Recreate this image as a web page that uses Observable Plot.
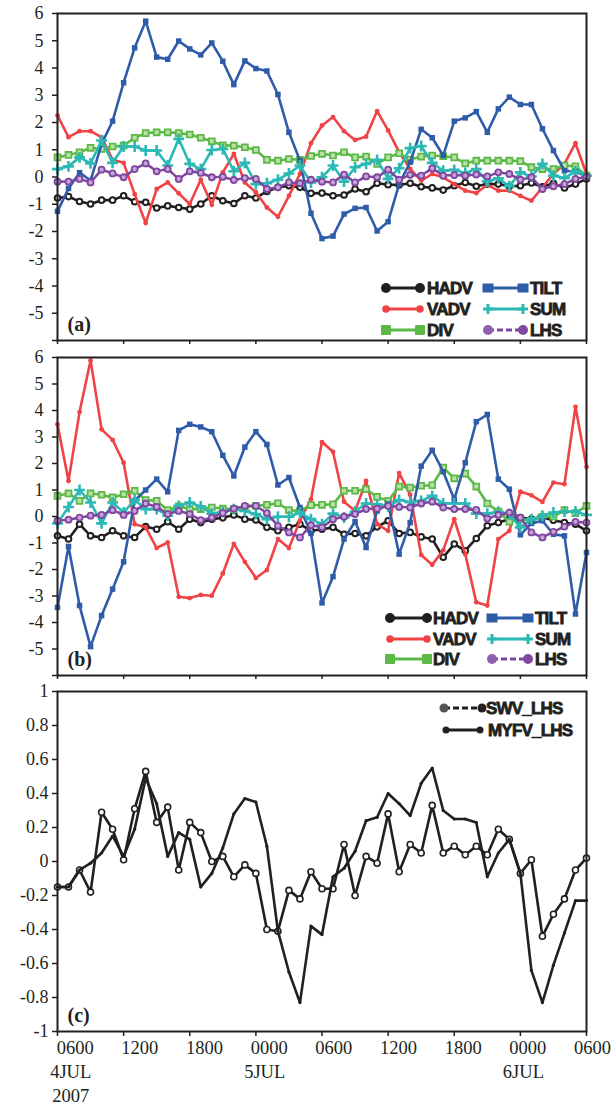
<!DOCTYPE html>
<html><head><meta charset="utf-8">
<script src="https://cdn.jsdelivr.net/npm/d3@7"></script>
<script src="https://cdn.jsdelivr.net/npm/@observablehq/plot@0.6"></script>
<style>
body{margin:0;background:#fff;}
#root{position:relative;width:613px;height:1109px;overflow:hidden;background:#fff;}
.pane{position:absolute;left:0;}
#overlay{position:absolute;left:0;top:0;}
</style></head><body><div id="root"></div>
<script>
// ---------- data ----------
const hours = d3.range(0, 49); // hours since 0600 4 JUL 2007
const tickHours = [0, 6, 12, 18, 24, 30, 36, 42, 48];
const hourLabels = ["0600","1200","1800","0000","0600","1200","1800","0000","0600"];
const dateHours = [0, 18, 42];
const dateLabels = ["4JUL", "5JUL", "6JUL"];
const yearHours = [0];
const yearLabels = ["2007"];
const yTicksAB = [-6,-5,-4,-3,-2,-1,0,1,2,3,4,5,6];
const yLabelsAB = [-5,-4,-3,-2,-1,0,1,2,3,4,5,6];
const yTicksC = [-1,-0.8,-0.6,-0.4,-0.2,0,0.2,0.4,0.6,0.8,1];
const panelLetters = ["(a)", "(b)", "(c)"];
const seriesAB = ["HADV","VADV","DIV","TILT","SUM","LHS"];
const seriesC = ["SWV_LHS","MYFV_LHS"];

// panel (a)
const HADV_a = [-0.77,-0.72,-0.90,-0.99,-0.85,-0.85,-0.69,-0.91,-0.93,-1.14,-1.06,-1.12,-1.18,-0.99,-0.69,-0.87,-0.97,-0.69,-0.77,-0.53,-0.38,-0.32,-0.38,-0.60,-0.59,-0.69,-0.66,-0.44,-0.54,-0.23,-0.28,-0.29,-0.23,-0.36,-0.40,-0.48,-0.32,-0.20,-0.34,-0.26,-0.26,-0.34,-0.32,-0.22,-0.36,-0.23,-0.40,-0.26,-0.07];
const VADV_a = [2.26,1.46,1.68,1.68,1.46,0.63,0.52,-0.63,-1.69,-0.44,-0.20,-0.60,-0.99,-0.10,-1.02,0.17,0.85,-0.20,-0.56,-1.12,-1.46,-0.69,0.11,1.24,1.89,2.20,1.68,1.36,1.48,2.42,1.71,0.91,0.30,-0.13,0.11,-0.01,-0.26,-0.50,-0.59,-0.29,-0.50,-0.50,-0.69,-0.87,-0.38,0.11,0.48,1.24,0.11];
const DIV_a = [0.72,0.81,0.91,1.07,1.03,1.12,1.15,1.44,1.61,1.64,1.64,1.61,1.56,1.44,1.31,1.16,1.15,1.09,0.99,0.63,0.60,0.66,0.63,0.77,0.85,0.79,0.91,0.72,0.75,0.48,0.72,0.87,0.64,0.75,0.79,0.76,0.72,0.50,0.60,0.60,0.60,0.60,0.58,0.36,0.29,0.29,0.42,0.39,0.05];
const TILT_a = [-1.26,-0.42,0.16,-0.13,1.21,2.05,3.46,4.74,5.72,4.40,4.32,4.99,4.70,4.48,4.92,4.25,3.39,4.26,3.98,3.89,3.03,1.64,0.60,-1.33,-2.26,-2.17,-1.36,-1.15,-1.12,-1.98,-1.64,-0.26,0.54,1.75,1.44,0.79,2.05,2.17,2.40,1.64,2.50,2.93,2.66,2.66,1.77,0.97,0.23,0.20,0.02];
const SUM_a = [0.29,0.39,0.72,0.50,1.34,0.52,1.12,1.12,0.97,0.97,0.42,1.40,0.48,0.29,0.99,1.03,0.21,0.52,-0.26,-0.23,-0.10,0.13,0.42,-0.20,-0.01,0.42,-0.17,0.36,0.48,0.63,-0.07,0.32,1.06,1.14,0.52,0.23,0.26,0.15,0.29,-0.16,-0.05,-0.34,0.17,0.02,0.48,0.05,-0.04,0.21,0.05];
const LHS_a = [-0.17,-0.17,-0.07,-0.20,0.27,0.13,-0.01,0.29,0.50,0.21,0.29,-0.07,0.21,0.15,-0.01,0.01,-0.11,-0.04,-0.07,-0.44,-0.38,-0.20,-0.23,-0.10,-0.17,-0.20,0.09,-0.20,0.02,-0.01,0.27,-0.10,0.08,0.05,0.32,0.05,0.07,0.05,0.09,0.02,0.17,0.11,-0.10,-0.01,-0.44,-0.34,-0.26,-0.07,0.01];

// panel (b)
const HADV_b = [-0.73,-0.85,-0.29,-0.73,-0.79,-0.54,-0.73,-0.79,-0.38,-0.48,-0.20,-0.48,-0.10,-0.23,-0.10,-0.05,0.06,-0.10,-0.13,-0.41,-0.54,-0.41,-0.29,-0.54,-0.48,-0.41,-0.67,-0.64,-0.73,-0.39,-0.16,-0.64,-0.60,-0.77,-0.85,-1.54,-1.04,-1.29,-0.83,-0.35,-0.23,-0.10,-0.04,-0.10,-0.04,-0.14,-0.23,-0.29,-0.54];
const VADV_b = [3.48,1.34,3.94,5.89,3.29,2.89,2.03,-0.29,-0.41,-1.19,-0.98,-3.03,-3.08,-2.96,-2.99,-2.15,-1.03,-1.71,-2.32,-2.02,-0.85,-1.19,-0.16,0.65,2.81,2.44,0.56,0.21,1.34,-0.29,-0.54,1.64,0.82,-1.45,-1.82,-1.27,-0.10,-1.42,-3.24,-3.36,-0.85,-0.54,0.94,0.80,0.55,1.28,1.22,4.14,1.87];
const DIV_b = [0.78,0.87,0.59,0.87,0.82,0.72,0.84,0.97,0.62,0.59,0.24,0.38,0.28,0.28,0.34,0.30,0.28,0.36,0.40,0.44,0.50,0.24,0.21,0.43,0.44,0.46,0.97,0.97,1.03,0.74,0.59,1.13,1.09,1.16,1.18,1.85,1.44,1.62,1.13,0.49,0.19,-0.20,-0.10,-0.16,-0.01,-0.01,0.24,0.13,0.40];
const TILT_b = [-3.43,-1.13,-3.36,-4.91,-3.74,-2.74,-1.71,0.60,1.00,1.41,0.93,3.25,3.48,3.38,3.20,2.31,1.53,2.62,3.20,2.72,1.19,1.47,0.34,-0.64,-3.26,-2.27,-0.85,-0.19,-1.17,0.21,0.49,-1.42,-0.23,1.90,2.50,1.69,0.65,2.03,3.58,3.85,1.41,1.03,-0.69,-0.26,-0.16,-0.67,-0.73,-3.68,-1.36];
const SUM_b = [-0.26,0.36,1.00,0.53,-0.26,0.53,0.15,0.63,0.28,0.28,0.03,0.40,0.53,0.38,0.11,0.17,0.28,0.21,0.09,-0.10,-0.01,-0.01,0.15,-0.10,-0.29,0.11,-0.04,0.19,0.49,0.46,0.38,0.62,0.54,0.59,0.78,0.49,0.50,0.49,0.11,0.11,0.18,0.09,-0.41,-0.10,0.03,0.15,0.19,0.19,0.06];
const LHS_b = [-0.16,-0.12,-0.04,0.03,0.06,0.24,0.06,0.21,0.49,0.36,0.09,0.21,0.09,-0.14,-0.04,0.13,0.30,0.40,0.40,0.13,-0.35,-0.60,-0.79,-0.33,-0.41,-0.10,-0.01,0.09,0.28,0.30,0.40,0.36,0.34,0.49,0.56,0.34,0.28,0.28,0.25,-0.08,0.06,0.15,-0.04,-0.60,-0.79,-0.58,-0.38,-0.20,-0.23];

// panel (c)
const SWV_LHS = [-0.15,-0.15,-0.05,-0.18,0.29,0.19,0.01,0.31,0.53,0.23,0.32,-0.05,0.23,0.17,0.00,0.03,-0.09,-0.02,-0.07,-0.40,-0.41,-0.17,-0.22,-0.06,-0.16,-0.16,0.10,-0.20,0.03,-0.01,0.28,-0.06,0.10,0.05,0.33,0.05,0.09,0.04,0.09,0.04,0.19,0.13,-0.07,0.01,-0.44,-0.31,-0.22,-0.05,0.02];
const MYFV_LHS = [-0.15,-0.15,-0.05,-0.01,0.05,0.15,0.03,0.19,0.49,0.34,0.03,0.17,0.13,-0.15,-0.07,0.08,0.28,0.37,0.35,0.09,-0.41,-0.65,-0.83,-0.38,-0.43,-0.09,-0.04,0.06,0.24,0.26,0.40,0.34,0.27,0.46,0.55,0.30,0.25,0.25,0.23,-0.09,0.05,0.13,-0.07,-0.64,-0.83,-0.61,-0.42,-0.23,-0.23];

// ---------- styles ----------
const INK = "#231f20";
const sty = {
  HADV: {stroke: INK, symbol: "circle", r: 2.8, fill: "#ffffff", mstroke: INK, msw: 2},
  VADV: {stroke: "#ef4346", symbol: "circle", r: 2.4, fill: "#ef4346", mstroke: "none", msw: 0},
  DIV:  {stroke: "#5cb946", symbol: "square", r: 3.3, fill: "#b9dfaa", mstroke: "#5cb946", msw: 1.8},
  TILT: {stroke: "#2f5ca8", symbol: "square", r: 3.1, fill: "#2f5ca8", mstroke: "none", msw: 0},
  SUM:  {stroke: "#2bb9b6", symbol: "plus", r: 3.6, fill: "none", mstroke: "#2bb9b6", msw: 2.6},
  LHS:  {stroke: "#7f47a0", symbol: "circle", r: 3.0, fill: "#c7a5d8", mstroke: "#7f47a0", msw: 1.8, dash: "5,2"},
  SWV_LHS: {stroke: INK, symbol: "circle", r: 3.0, fill: "#ffffff", mstroke: INK, msw: 1.6},
  MYFV_LHS: {stroke: INK, symbol: "circle", r: 1.6, fill: INK, mstroke: "none", msw: 0}
};

const dataA = {HADV: HADV_a, VADV: VADV_a, DIV: DIV_a, TILT: TILT_a, SUM: SUM_a, LHS: LHS_a};
const dataB = {HADV: HADV_b, VADV: VADV_b, DIV: DIV_b, TILT: TILT_b, SUM: SUM_b, LHS: LHS_b};
const dataC = {SWV_LHS, MYFV_LHS};

const fmtC = d => String(+d.toFixed(1));
const SERIF = "'Liberation Serif', 'Times New Roman', serif";
// category-style label placement (labels sit a little right of their ticks, as in the source)
const labelPos = h => 1.6 + h * 0.978;

function makePanel(o) {
  const marks = [];
  for (const k of o.keys) {
    const s = sty[k];
    const rows = hours.map((h, i) => ({h, v: o.data[k][i]}));
    marks.push(Plot.line(rows, {x: "h", y: "v", stroke: s.stroke, strokeWidth: 2.6, strokeLinejoin: "round", strokeDasharray: s.dash}));
    marks.push(Plot.dot(rows, {x: "h", y: "v", symbol: s.symbol, r: s.r, fill: s.fill, stroke: s.mstroke, strokeWidth: s.msw}));
  }
  marks.push(Plot.frame({stroke: INK, strokeWidth: 2}));
  marks.push(Plot.axisY(o.yTicks, {tickSize: 5, tickFormat: () => "", label: null, strokeWidth: 1.5}));
  marks.push(Plot.axisY(o.yLabels, {tickSize: 0, tickPadding: o.yPad + 5, tickFormat: o.yFmt, fontSize: 18, fontFamily: SERIF, label: null}));
  if (o.xLabels) {
    marks.push(Plot.axisX(tickHours, {tickSize: 5, tickFormat: () => "", label: null, strokeWidth: 1.5}));
    marks.push(Plot.text(tickHours, {x: labelPos, text: d => hourLabels[tickHours.indexOf(d)], frameAnchor: "bottom", dy: 22, fontSize: 18.5, fontFamily: SERIF, fill: INK}));
    marks.push(Plot.text(dateHours, {x: d => labelPos(d) - 0.4, text: d => dateLabels[dateHours.indexOf(d)], frameAnchor: "bottom", dy: 46, fontSize: 18.5, fontFamily: SERIF, fill: INK}));
    marks.push(Plot.text(yearHours, {x: d => labelPos(d) - 0.4, text: d => yearLabels[yearHours.indexOf(d)], frameAnchor: "bottom", dy: 70, fontSize: 18.5, fontFamily: SERIF, fill: INK}));
  } else {
    marks.push(Plot.axisX(tickHours, {tickSize: 4, tickFormat: () => "", label: null, strokeWidth: 1.5}));
  }
  marks.push(Plot.text([o.letter], {frameAnchor: "bottom-left", dx: 10, dy: -10, fontWeight: "bold", fontSize: 20, fontFamily: SERIF, fill: INK}));
  const svg = Plot.plot({
    width: 613, height: o.height,
    marginLeft: 57, marginRight: 27, marginTop: o.mt, marginBottom: o.mb,
    x: {domain: [0, 48]},
    y: {domain: o.yDomain},
    style: {background: "transparent", color: INK, fontFamily: SERIF, overflow: "visible"},
    marks
  });
  const div = document.createElement("div");
  div.className = "pane";
  div.style.top = o.top + "px";
  div.appendChild(svg);
  document.getElementById("root").appendChild(div);
}

makePanel({data: dataA, keys: seriesAB, yDomain: [-6, 6], yTicks: yTicksAB, yLabels: yLabelsAB, yFmt: d => String(d), yPad: 9, top: 0, height: 345, mt: 13, mb: 5, letter: panelLetters[0]});
makePanel({data: dataB, keys: seriesAB, yDomain: [-6, 6], yTicks: yTicksAB, yLabels: yLabelsAB, yFmt: d => String(d), yPad: 9, top: 345, height: 336, mt: 12, mb: 6, letter: panelLetters[1]});
makePanel({data: dataC, keys: seriesC, yDomain: [-1, 1], yTicks: yTicksC, yLabels: yTicksC, yFmt: fmtC, yPad: 4, top: 681, height: 428, mt: 10, mb: 78, letter: panelLetters[2], xLabels: true});

// ---------- legends ----------
const ov = d3.select("#root").append("svg").attr("id", "overlay").attr("width", 613).attr("height", 1109);
function marker(g, key, x, y, left) {
  const s = sty[key];
  if (key === "HADV") g.append("circle").attr("cx", x).attr("cy", y).attr("r", 5).attr("fill", INK);
  else if (key === "VADV") g.append("circle").attr("cx", x).attr("cy", y).attr("r", 3.8).attr("fill", s.stroke);
  else if (key === "DIV") g.append("rect").attr("x", x - 5).attr("y", y - 5).attr("width", 10).attr("height", 10).attr("fill", s.stroke).attr("rx", 1);
  else if (key === "TILT") g.append("rect").attr("x", x - 5.5).attr("y", y - 4.5).attr("width", 11).attr("height", 9).attr("fill", s.stroke);
  else if (key === "SUM") g.append("path").attr("d", `M${x-5},${y}H${x+5}M${x},${y-5}V${y+5}`).attr("stroke", s.stroke).attr("stroke-width", 3);
  else if (key === "LHS") g.append("circle").attr("cx", x).attr("cy", y).attr("r", 5).attr("fill", left ? "#8f5fae" : s.stroke);
  else if (key === "SWV_LHS") g.append("circle").attr("cx", x).attr("cy", y).attr("r", 4.5).attr("fill", left ? "#555" : INK);
  else g.append("circle").attr("cx", x).attr("cy", y).attr("r", 3.5).attr("fill", INK);
}
function legendItem(key, x1, x2, y, tx) {
  const s = sty[key];
  const g = ov.append("g");
  g.append("line").attr("x1", x1).attr("x2", x2).attr("y1", y).attr("y2", y)
    .attr("stroke", s.stroke).attr("stroke-width", 3)
    .attr("stroke-dasharray", (key === "LHS" || key === "SWV_LHS") ? "6,3" : null);
  marker(g, key, x1, y, true);
  marker(g, key, x2, y, false);
  g.append("text").attr("x", tx).attr("y", y).attr("dy", "0.36em")
    .attr("font-family", "'Liberation Sans', Arial, sans-serif").attr("font-weight", "bold")
    .attr("font-size", 17).attr("letter-spacing", "-0.8px")
    .attr("fill", INK).attr("stroke", INK).attr("stroke-width", 0.8)
    .text(key);
}
const legendRowsA = [288, 309, 330];
const legendRowsB = [618, 639, 659];
seriesAB.forEach((k, i) => {
  const col = Math.floor(i / 3), row = i % 3;
  if (col === 0) legendItem(k, 386, 420, legendRowsA[row], 427);
  else legendItem(k, 488, 523, legendRowsA[row], 530);
  if (col === 0) legendItem(k, 390, 427, legendRowsB[row], 433);
  else legendItem(k, 492, 528, legendRowsB[row], 535);
});
legendItem("SWV_LHS", 444, 482, 708, 486);
legendItem("MYFV_LHS", 446, 480, 730, 488);
</script>
</body></html>
